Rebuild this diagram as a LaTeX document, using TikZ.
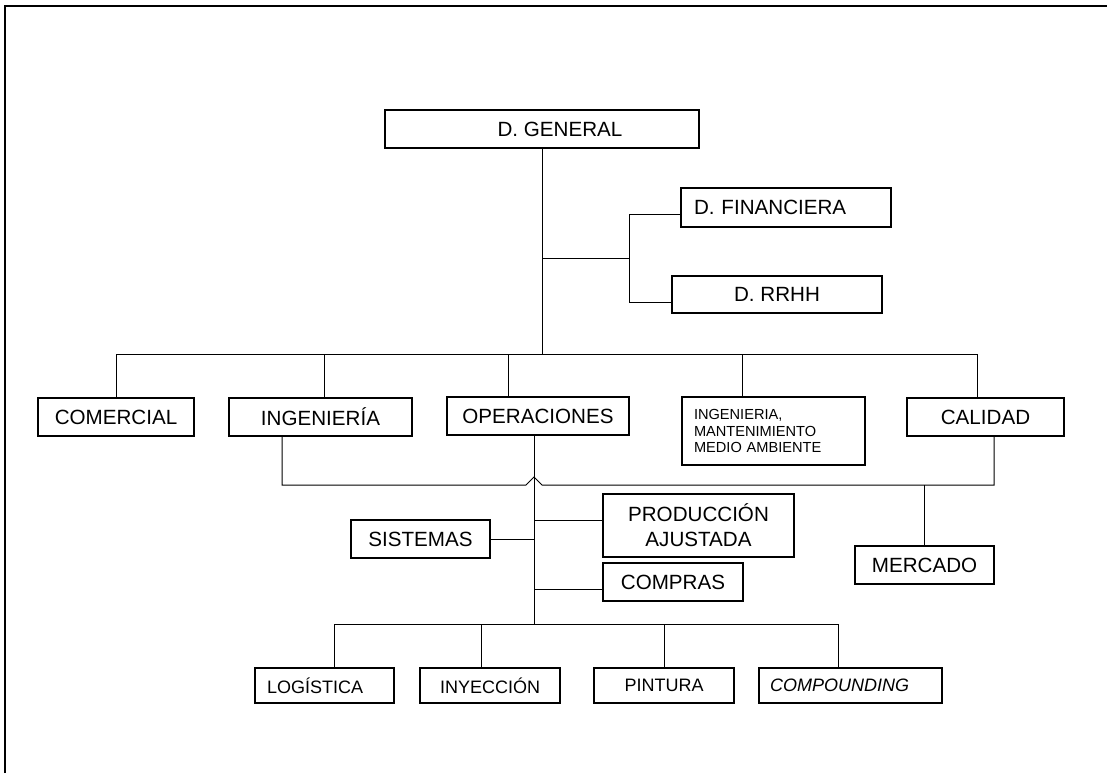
\documentclass[tikz,border=0pt]{standalone}
\usepackage{fontspec}
\setmainfont{Liberation Sans}
\usepackage{tikz}

\begin{document}
\begin{tikzpicture}[x=0.5pt,y=-0.5pt,
  box/.style={draw, rectangle, line width=0.65pt, minimum height=19pt, font=\fontsize{10.3}{12.5}\selectfont},
  smallbox/.style={box, minimum height=17.5pt, font=\fontsize{9}{10.8}\selectfont},
  link/.style={line width=0.5pt}]
            \useasboundingbox (0,0) rectangle (1107,773);
            %Frame
            \draw[line width=1.1pt] (5,773) -- (5,6) -- (1107,6);

            %Nodes
            \node[box, minimum width=157pt](general) at (542,129){\hspace*{18pt}D. GENERAL};
            \node[box, minimum height=19.5pt, align=left, text width=92pt, inner xsep=6.5pt](financiera) at (786,207.5){D. FINANCIERA};
            \node[box, minimum width=105pt, minimum height=18.5pt](rrhh) at (777,294.5){D. RRHH};
            \node[box, minimum width=78pt](comercial) at (116,417){COMERCIAL};
            \node[box, minimum width=91.5pt](ingenieria) at (320.5,417){INGENIERÍA};
            \node[box, minimum width=91pt](operaciones) at (538,416){OPERACIONES};
            \node[box, minimum height=34pt, align=left, text width=79.5pt, inner xsep=6pt, font=\fontsize{7.3}{8.3}\selectfont](mantenimiento) at (773.5,431){INGENIERIA,\\MANTENIMIENTO\\MEDIO AMBIENTE};
            \node[box, minimum width=78.5pt](calidad) at (985.5,417){CALIDAD};
            \node[box, minimum width=69.5pt](mercado) at (924.5,565){MERCADO};
            \node[box, minimum width=69.5pt](sistemas) at (420.5,539){SISTEMAS};
            \node[box, minimum width=95.5pt, minimum height=31.5pt, align=center](produccion) at (698.5,525.5){PRODUCCIÓN\\AJUSTADA};
            \node[box, minimum width=70pt](compras) at (673,582){COMPRAS};
            \node[smallbox, align=left, text width=57.5pt, inner xsep=6pt](logistica) at (324.5,685.5){LOGÍSTICA};
            \node[smallbox, minimum width=70pt](inyeccion) at (490,685.5){INYECCIÓN};
            \node[smallbox, minimum width=70pt](pintura) at (664,685.5){PINTURA};
            \node[smallbox, align=left, text width=80.5pt, inner xsep=5.5pt, font=\fontsize{9}{10.8}\selectfont\itshape](compounding) at (850.5,685.5){COMPOUNDING};

            %Points
            \coordinate (topbus) at (0,354);
            \coordinate (branch) at (629,258);
            \coordinate (lowbus) at (0,485);
            \coordinate (hop) at (534,485);
            \coordinate (botbus) at (0,624);
            \coordinate (ingup) at ([xshift=1.75pt]ingenieria.north);
            \coordinate (opeup) at ([xshift=-15pt]operaciones.north);
            \coordinate (manup) at ([xshift=-15.75pt]mantenimiento.north);
            \coordinate (calup) at ([xshift=-4.25pt]calidad.north);
            \coordinate (ingdown) at ([xshift=-19.25pt]ingenieria.south);
            \coordinate (caldown) at ([xshift=4.25pt]calidad.south);
            \coordinate (opedown) at ([xshift=-2pt]operaciones.south);
            \coordinate (prodin) at ([yshift=2.75pt]produccion.west);
            \coordinate (compin) at ([yshift=-3.5pt]compras.west);
            \coordinate (logup) at ([xshift=4.75pt]logistica.north);
            \coordinate (inyup) at ([xshift=-4.5pt]inyeccion.north);
            \coordinate (cpdup) at ([xshift=-6.25pt]compounding.north);

            %Lines
            \draw[link](general.south)--(general.south |- topbus);
            \draw[link](general.south |- branch)--(branch);
            \draw[link]([yshift=-3.25pt]financiera.west) -| (branch) |- ([yshift=-3.75pt]rrhh.west);
            \draw[link](comercial.north |- topbus)--(calup |- topbus);
            \draw[link](comercial.north)--(comercial.north |- topbus);
            \draw[link](ingup)--(ingup |- topbus);
            \draw[link](opeup)--(opeup |- topbus);
            \draw[link](manup)--(manup |- topbus);
            \draw[link](calup)--(calup |- topbus);
            \draw[link](ingdown) |- ([xshift=-4pt]hop) -- ([yshift=4pt]hop) -- ([xshift=4pt]hop) -| (caldown);
            \draw[link](mercado.north)--(mercado.north |- lowbus);
            \draw[link](opedown)--(opedown |- botbus);
            \draw[link](sistemas.east)--(sistemas.east -| opedown);
            \draw[link](prodin)--(prodin -| opedown);
            \draw[link](compin)--(compin -| opedown);
            \draw[link](logup |- botbus)--(cpdup |- botbus);
            \draw[link](logup)--(logup |- botbus);
            \draw[link](inyup)--(inyup |- botbus);
            \draw[link](pintura.north)--(pintura.north |- botbus);
            \draw[link](cpdup)--(cpdup |- botbus);

        \end{tikzpicture}
\end{document}
